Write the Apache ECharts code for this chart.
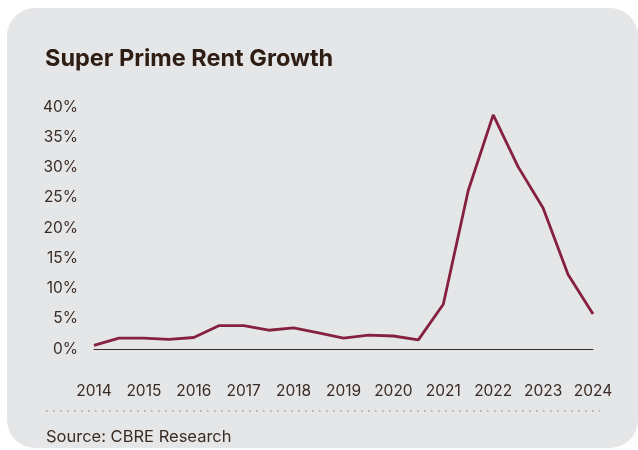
<!DOCTYPE html>
<html>
<head>
<meta charset="utf-8">
<script src="https://cdn.jsdelivr.net/npm/echarts@6/dist/echarts.min.js"></script>
<style>
  html, body { margin: 0; padding: 0; background: #ffffff; }
  #chart { width: 638px; height: 450px; }
</style>
</head>
<body>
<div id="chart"></div>
<script>
// Half-yearly observations, 2014 to 2024
const periods = ['2014', '2014 H2', '2015', '2015 H2', '2016', '2016 H2', '2017', '2017 H2',
  '2018', '2018 H2', '2019', '2019 H2', '2020', '2020 H2', '2021', '2021 H2',
  '2022', '2022 H2', '2023', '2023 H2', '2024'];
// Super prime rent growth, %
const rentGrowth = [0.6, 1.8, 1.8, 1.6, 1.9, 3.85, 3.85, 3.1, 3.5, 2.65, 1.8,
  2.3, 2.15, 1.5, 7.4, 26.2, 38.7, 30.1, 23.3, 12.3, 5.8];
const yTicks = { min: 0, max: 40, step: 5 };

const textColor = '#3a2c23';
const fontFamily = 'Inter, "Noto Sans", sans-serif';

const chart = echarts.init(document.getElementById('chart'), null, { renderer: 'canvas' });
chart.setOption({
  backgroundColor: '#ffffff',
  animation: false,
  graphic: [
    {
      type: 'rect', z: -10, silent: true,
      shape: { x: 7, y: 8, width: 631, height: 440, r: 28 },
      style: { fill: '#e5e6e8' }
    },
    {
      type: 'text', left: 45, top: 47,
      style: { text: 'Super Prime Rent Growth', fill: '#2e1d12',
        font: 'bold 23.5px ' + fontFamily }
    },
    {
      type: 'line', silent: true,
      shape: { x1: 46, y1: 411, x2: 600, y2: 411 },
      style: { stroke: '#a3a3a3', lineWidth: 1.6, lineDash: [1.6, 5.4] }
    },
    {
      type: 'text', left: 46, top: 429,
      style: { text: 'Source: CBRE Research', fill: textColor,
        font: '16.5px ' + fontFamily }
    }
  ],
  grid: { left: 94, right: 45, top: 107, bottom: 101, containLabel: false },
  xAxis: {
    type: 'category',
    data: periods,
    boundaryGap: false,
    axisLine: { lineStyle: { color: '#3a2c23', width: 1 } },
    axisTick: { show: false },
    axisLabel: {
      interval: 1, margin: 34, color: textColor, fontSize: 15.5, fontFamily: fontFamily,
      formatter: v => v.slice(0, 4)
    },
    splitLine: { show: false }
  },
  yAxis: {
    type: 'value',
    min: yTicks.min, max: yTicks.max, interval: yTicks.step,
    axisLine: { show: false },
    axisTick: { show: false },
    splitLine: { show: false },
    axisLabel: { margin: 16, color: textColor, fontSize: 15.5, fontFamily: fontFamily,
      formatter: '{value}%' }
  },
  series: [{
    type: 'line',
    data: rentGrowth,
    symbol: 'none',
    lineStyle: { color: '#86203f', width: 2.8 }
  }]
});
</script>
</body>
</html>
